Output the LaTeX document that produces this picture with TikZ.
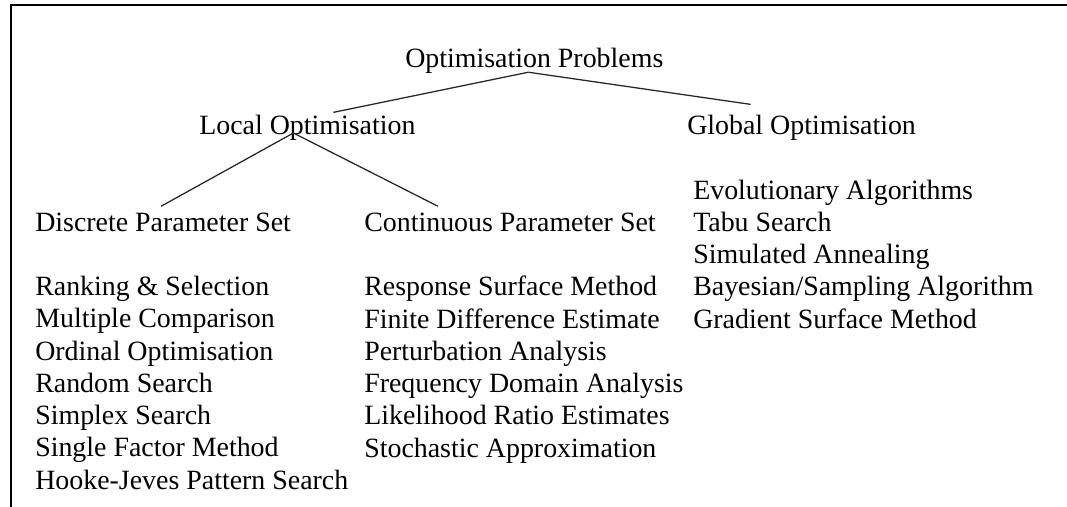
\documentclass[tikz,border=0pt]{standalone}
\usepackage{fontspec}
\setmainfont{Liberation Serif}
\usetikzlibrary{positioning,calc}

\begin{document}
\begin{tikzpicture}[
    x=0.025cm, y=-0.025cm,
    lbl/.style={inner sep=0pt, anchor=base west, align=left, font=\fontsize{19.84pt}{22.9pt}\selectfont},
    link/.style={line width=0.9pt, draw=black!85}
]
\useasboundingbox (0,0) rectangle (1067,507);
\draw[line width=1.4pt] (11,507) -- (11,5) -- (1067,5);
\node[lbl] (prob) at (405,67) {Optimisation Problems};
\node[lbl] (local) at (199,134) {Local Optimisation};
\node[lbl] (global) at (687,134) {Global Optimisation};
\node[lbl] (disc) at (35,231) {Discrete Parameter Set};
\node[lbl] (cont) at (364,231) {Continuous Parameter Set};
% multi-line nodes: base = last line
\node[lbl] (glist) at (693,328) {Evolutionary Algorithms\\Tabu Search\\Simulated Annealing\\Bayesian/Sampling Algorithm\\Gradient Surface Method};
\node[lbl] (dlist) at (35,489) {Ranking \& Selection\\Multiple Comparison\\Ordinal Optimisation\\Random Search\\Simplex Search\\Single Factor Method\\Hooke-Jeves Pattern Search};
\node[lbl] (clist) at (364,457) {Response Surface Method\\Finite Difference Estimate\\Perturbation Analysis\\Frequency Domain Analysis\\Likelihood Ratio Estimates\\Stochastic Approximation};
\draw[link] ($(prob.south)+(-6,-1)$) -- ($(local.north)+(26,-2)$);
\draw[link] ($(prob.south)+(-6,-1)$) -- ($(global.north)+(-51,-10)$);
\draw[link] ($(local.base)+(-14,-1)$) -- ($(disc.north)+(-2,-6)$);
\draw[link] ($(local.base)+(-14,-1)$) -- ($(cont.north)+(-72,-6)$);
\end{tikzpicture}
\end{document}
